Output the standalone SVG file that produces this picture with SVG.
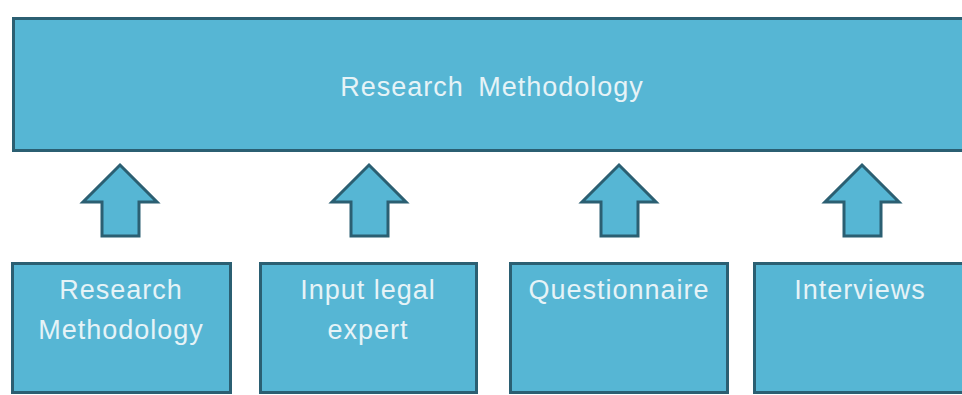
<svg xmlns="http://www.w3.org/2000/svg" width="962" height="395" viewBox="0 0 962 395">
<style>
.box{fill:#56b6d4;stroke:#2b5f72;stroke-width:3}
.arr{fill:#56b6d4;stroke:#2b5f72;stroke-width:3;stroke-linejoin:miter}
.t{font-family:"Liberation Sans",Arial,sans-serif;font-size:27px;letter-spacing:1px;fill:#e6f3f7;text-anchor:middle}
</style>
<rect width="962" height="395" fill="#ffffff"/>
<g id="top">
<rect class="box" x="13.5" y="18.5" width="960" height="132"/>
<text class="t" x="492" y="96" word-spacing="6">Research Methodology</text>
</g>
<g id="connectors">
<path class="arr" d="M120 165 L157 202 L139 202 L139 236 L102 236 L102 202 L83 202 Z"/>
<path class="arr" d="M369 165 L406 202 L388 202 L388 236 L351 236 L351 202 L332 202 Z"/>
<path class="arr" d="M619 165 L656 202 L638 202 L638 236 L601 236 L601 202 L582 202 Z"/>
<path class="arr" d="M862 165 L899 202 L881 202 L881 236 L844 236 L844 202 L825 202 Z"/>
</g>
<g id="n1">
<rect class="box" x="12.5" y="263.5" width="218" height="129"/>
<text class="t" x="121" y="299">Research</text>
<text class="t" x="121" y="339">Methodology</text>
</g>
<g id="n2">
<rect class="box" x="260.5" y="263.5" width="216" height="129"/>
<text class="t" x="368" y="299">Input legal</text>
<text class="t" x="368" y="339">expert</text>
</g>
<g id="n3">
<rect class="box" x="510.5" y="263.5" width="217" height="129"/>
<text class="t" x="619" y="299">Questionnaire</text>
</g>
<g id="n4">
<rect class="box" x="754.5" y="263.5" width="212" height="129"/>
<text class="t" x="860" y="299">Interviews</text>
</g>
</svg>
